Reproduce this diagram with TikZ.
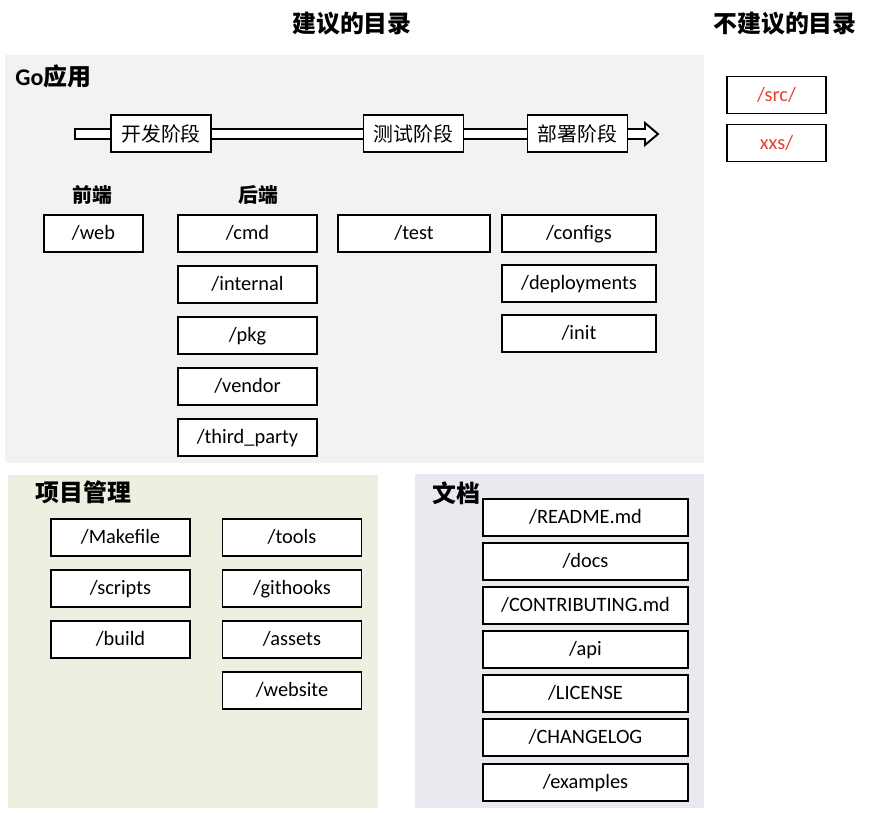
\documentclass[tikz,border=0pt]{standalone}
\usepackage{fontspec}
\setmainfont{Carlito}
\newfontfamily\cjk{Noto Sans CJK SC}
\usepackage{tikz}
\usetikzlibrary{positioning,calc}
\definecolor{appgray}{RGB}{242,242,240}
\definecolor{mgmtgreen}{RGB}{237,240,225}
\definecolor{docviolet}{RGB}{235,233,240}
\definecolor{badred}{RGB}{232,64,50}

\begin{document}
\begin{tikzpicture}[x=0.02cm, y=-0.02cm,
		dir/.style={rectangle, draw=black, fill=white, line width=1.1pt, inner sep=0pt, minimum height=7.4mm, text height=1.6ex, text depth=0.1ex, font=\fontsize{11.6}{13}\selectfont},
		stage/.style={rectangle, draw=black, fill=white, line width=1.1pt, inner sep=0pt, minimum height=7.4mm, minimum width=20mm, font=\cjk\fontsize{11.3}{13}\selectfont},
		bad/.style={dir, minimum width=19.8mm, text=badred},
		title/.style={font=\cjk\bfseries\fontsize{13.6}{16}\selectfont, inner sep=0pt},
		sub/.style={font=\cjk\bfseries\fontsize{11.3}{13}\selectfont, inner sep=0pt}]
		\useasboundingbox (0,0) rectangle (896,812);
		\fill[appgray] (5,55) rectangle (704,463);
		\fill[mgmtgreen] (8,475) rectangle (378,808);
		\fill[docviolet] (415,474) rectangle (704,808);

		\node[title] (good) at (352,24) {建议的目录};
		\node[title] (nogood) at (785,24) {不建议的目录};
		\node[title, anchor=west] (goapp) at (15,76) {{\fontspec{Carlito}Go}应用};
		\node[title, anchor=west] (mgmt) at (35,492) {项目管理};
		\node[title, anchor=west] (docs) at (432,493) {文档};
		\node[sub] (front) at (92,195) {前端};
		\node[sub] (back) at (258,195) {后端};

		% timeline
		\coordinate (tstart) at (75,134);
		\coordinate (tend) at (658,134);
		\draw[fill=white, line width=1.1pt] ($(tstart)+(0,-5)$) -- ($(tend)+(-13,-5)$) -- ($(tend)+(-13,-11)$) -- (tend) -- ($(tend)+(-13,11)$) -- ($(tend)+(-13,5)$) -- ($(tstart)+(0,5)$) -- cycle;
		\node[stage] (dev) at (161,133.5) {开发阶段};
		\node[stage] (testing) at (413.5,133.5) {测试阶段};
		\node[stage] (deploy) at (577.5,133.5) {部署阶段};

		\node[dir, minimum width=19.8mm] (web) at (93.5,233.5) {/web};
		\node[dir, minimum width=27.8mm] (cmd) at (247.5,233.5) {/cmd};
		\node[dir, minimum width=27.8mm] (internal) at (247.5,284.5) {/internal};
		\node[dir, minimum width=27.8mm] (pkg) at (247.5,335.5) {/pkg};
		\node[dir, minimum width=27.8mm] (vendor) at (247.5,386.5) {/vendor};
		\node[dir, minimum width=27.8mm] (third) at (247.5,437.5) {/third\_party};
		\node[dir, minimum width=30.4mm] (test) at (414,233.5) {/test};
		\node[dir, minimum width=30.8mm] (configs) at (579,233.5) {/configs};
		\node[dir, minimum width=30.8mm] (deployments) at (579,283.5) {/deployments};
		\node[dir, minimum width=30.8mm] (init) at (579,333.5) {/init};

		\node[bad] (src) at (776.5,95) {/src/};
		\node[bad] (xxs) at (776.5,143) {xxs/};

		\node[dir, minimum width=27.8mm] (makefile) at (120.5,537.5) {/Makefile};
		\node[dir, minimum width=27.8mm] (scripts) at (120.5,588.5) {/scripts};
		\node[dir, minimum width=27.8mm] (build) at (120.5,639.5) {/build};
		\node[dir, minimum width=27.8mm] (tools) at (292,537.5) {/tools};
		\node[dir, minimum width=27.8mm] (githooks) at (292,588.5) {/githooks};
		\node[dir, minimum width=27.8mm] (assets) at (292,639.5) {/assets};
		\node[dir, minimum width=27.8mm] (website) at (292,690.5) {/website};

		\node[dir, minimum width=41mm] (readme) at (585.5,517.5) {/README.md};
		\node[dir, minimum width=41mm] (docsdir) at (585.5,561.5) {/docs};
		\node[dir, minimum width=41mm] (contrib) at (585.5,605.5) {/CONTRIBUTING.md};
		\node[dir, minimum width=41mm] (api) at (585.5,649.5) {/api};
		\node[dir, minimum width=41mm] (license) at (585.5,693.5) {/LICENSE};
		\node[dir, minimum width=41mm] (changelog) at (585.5,737.5) {/CHANGELOG};
		\node[dir, minimum width=41mm] (examples) at (585.5,782.5) {/examples};
	\end{tikzpicture}
\end{document}
